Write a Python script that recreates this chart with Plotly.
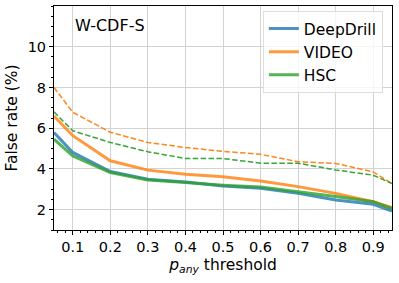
import plotly.graph_objects as go

thresholds = [0.05, 0.1, 0.2, 0.3, 0.4, 0.5, 0.6, 0.7, 0.8, 0.9, 0.95]
deepdrill = [5.79, 4.81, 3.87, 3.49, 3.36, 3.16, 3.05, 2.80, 2.47, 2.26, 1.93]
video = [6.60, 5.63, 4.40, 3.94, 3.74, 3.62, 3.41, 3.13, 2.80, 2.39, 2.10]
hsc = [5.46, 4.64, 3.82, 3.46, 3.33, 3.20, 3.11, 2.89, 2.64, 2.39, 2.05]
video_dashed = [8.00, 6.78, 5.80, 5.30, 5.05, 4.86, 4.72, 4.35, 4.27, 3.85, 3.28]
hsc_dashed = [6.80, 5.87, 5.30, 4.84, 4.51, 4.51, 4.28, 4.28, 3.95, 3.69, 3.28]

x_ticks = [0.1, 0.2, 0.3, 0.4, 0.5, 0.6, 0.7, 0.8, 0.9]
y_ticks = [2, 4, 6, 8, 10]

c_blue = "rgba(31,119,180,0.8)"
c_orange = "rgba(255,127,14,0.8)"
c_green = "rgba(44,160,44,0.8)"
FONT = "DejaVu Sans"

fig = go.Figure()
fig.add_trace(go.Scatter(x=thresholds, y=video_dashed, mode="lines",
                         line=dict(color="rgba(255,127,14,0.95)", width=1.5, dash="5.5px,2.4px"), showlegend=False))
fig.add_trace(go.Scatter(x=thresholds, y=hsc_dashed, mode="lines",
                         line=dict(color="rgba(44,160,44,0.95)", width=1.5, dash="5.5px,2.4px"), showlegend=False))
fig.add_trace(go.Scatter(x=thresholds, y=deepdrill, mode="lines", name="DeepDrill",
                         line=dict(color=c_blue, width=3)))
fig.add_trace(go.Scatter(x=thresholds, y=video, mode="lines", name="VIDEO",
                         line=dict(color=c_orange, width=3)))
fig.add_trace(go.Scatter(x=thresholds, y=hsc, mode="lines", name="HSC",
                         line=dict(color=c_green, width=3)))

axis_common = dict(showline=True, linecolor="black", linewidth=1, mirror=True,
                   ticks="outside", ticklen=4, tickcolor="black",
                   showgrid=True, gridcolor="#d3d3d3", gridwidth=1, automargin=False,
                   zeroline=False, tickfont=dict(family=FONT, size=14.5, color="black"))

fig.update_xaxes(range=[0.05, 0.95], tickvals=x_ticks,
                 ticktext=[f"{v:.1f}" for v in x_ticks],
                 minor=dict(tick0=0, dtick=0.02, ticks="outside", ticklen=2, tickcolor="black", showgrid=False),
                 title=dict(text="<i>p<sub>any</sub></i> threshold",
                            font=dict(family=FONT, size=15.5, color="black"), standoff=4),
                 **axis_common)
fig.update_yaxes(range=[1, 12], tickvals=y_ticks,
                 minor=dict(tick0=0, dtick=0.5, ticks="outside", ticklen=2, tickcolor="black", showgrid=False),
                 title=dict(text="False rate (%)", font=dict(family=FONT, size=15.5, color="black"), standoff=6),
                 **axis_common)

fig.add_annotation(text="W-CDF-S", xref="paper", yref="paper", x=0.055, y=0.965,
                   xanchor="left", yanchor="top", showarrow=False,
                   font=dict(family=FONT, size=16, color="black"))

fig.update_layout(
    width=399, height=283,
    margin=dict(l=54, r=7, t=6, b=53),
    plot_bgcolor="white", paper_bgcolor="white",
    font=dict(family=FONT, size=14, color="black"),
    legend=dict(x=0.973, y=0.978, xanchor="right", yanchor="top",
                bgcolor="rgba(255,255,255,0.8)", bordercolor="#dddddd", borderwidth=1,
                font=dict(family=FONT, size=15.5, color="black")),
)

fig.write_html("out.html", config={"displayModeBar": False},
               post_script="document.body.style.margin='0';document.body.style.padding='0';")
